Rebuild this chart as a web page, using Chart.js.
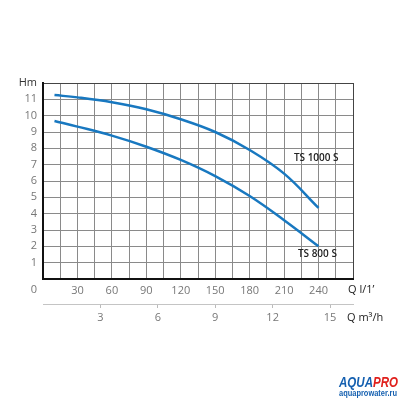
<!DOCTYPE html>
<html>
<head>
<meta charset="utf-8">
<script src="https://cdn.jsdelivr.net/npm/chart.js@4.4.1/dist/chart.umd.min.js"></script>
<style>
html,body{margin:0;padding:0;background:#fff;}
#wrap{width:400px;height:400px;position:relative;}
</style>
</head>
<body>
<div id="wrap"><canvas id="c" width="400" height="400"></canvas></div>
<script>
// Flow in l/min
const flowLpm = [10, 30, 60, 90, 120, 150, 180, 210, 240];
// Head in m
const ts1000 = [11.26, 11.12, 10.82, 10.39, 9.78, 9.0, 7.9, 6.45, 4.35];
const ts800  = [9.67, 9.33, 8.78, 8.1, 7.29, 6.3, 5.08, 3.6, 2.0];
const seriesNames = ['TS 1000 S', 'TS 800 S'];
const yTicks = [1,2,3,4,5,6,7,8,9,10,11];
const xTickLabels = [30,60,90,120,150,180,210,240];
const m3hTicks = [3,6,9,12,15];

const blue = '#1878c0';
const font = {family: "'Open Sans', sans-serif", size: 11};

function fitText(ctx, txt, x, y, width) {
  const w = ctx.measureText(txt).width;
  ctx.save();
  ctx.translate(x, y);
  ctx.scale(width / w, 1);
  ctx.fillText(txt, 0, 0);
  ctx.restore();
}

const extras = {
  id: 'extras',
  afterDraw(chart) {
    const ctx = chart.ctx;
    const xs = chart.scales.x, ys = chart.scales.y, x2 = chart.scales.x2;
    ctx.save();
    ctx.font = "11px 'Open Sans', sans-serif";
    ctx.fillStyle = '#777';
    ctx.textAlign = 'right';
    ctx.textBaseline = 'middle';
    ctx.fillText('0', xs.left - 6, ys.bottom + 11);
    ctx.fillStyle = '#222';
    ctx.textAlign = 'left';
    ctx.fillText("Q l/1\u2019", xs.right - 5, ys.bottom + 11);
    ctx.fillText("Q m\u00b3/h", x2.right - 6, x2.top + 14);
    ctx.font = "600 10px 'Open Sans', sans-serif";
    ctx.fillStyle = '#222';
    ctx.textAlign = 'center';
    ctx.fillText(seriesNames[0], xs.getPixelForValue(238), ys.getPixelForValue(7.4));
    ctx.fillText(seriesNames[1], xs.getPixelForValue(239), ys.getPixelForValue(1.53));
    // logo
    ctx.textAlign = 'left';
    ctx.textBaseline = 'alphabetic';
    ctx.font = "italic bold 15px 'Liberation Sans', sans-serif";
    const wA = ctx.measureText('AQUA').width, wP = ctx.measureText('PRO').width;
    const k = 59 / (wA + wP);
    ctx.save();
    ctx.translate(339, 387);
    ctx.scale(k, 1);
    ctx.fillStyle = '#1560b0';
    ctx.fillText('AQUA', 0, 0);
    ctx.fillStyle = '#e0201c';
    ctx.fillText('PRO', wA, 0);
    ctx.restore();
    ctx.font = "bold 9px 'Liberation Sans', sans-serif";
    ctx.fillStyle = '#1560b0';
    fitText(ctx, 'aquaprowater.ru', 339, 396, 58);
    ctx.restore();
  }
};

new Chart(document.getElementById('c'), {
  type: 'line',
  data: {
    datasets: [
      {label: seriesNames[0], data: flowLpm.map((q,i)=>({x:q, y:ts1000[i]})), borderColor: blue, borderWidth: 2.5, pointRadius: 0, tension: 0.4, fill: false},
      {label: seriesNames[1], data: flowLpm.map((q,i)=>({x:q, y:ts800[i]})), borderColor: blue, borderWidth: 2.5, pointRadius: 0, tension: 0.4, fill: false}
    ]
  },
  options: {
    responsive: false,
    animation: false,
    devicePixelRatio: 1,
    layout: {padding: {top: 83, left: 0, right: 47, bottom: 66}},
    plugins: {legend: {display: false}, tooltip: {enabled: false}},
    scales: {
      x: {
        type: 'linear', position: 'bottom', min: 0, max: 270,
        afterBuildTicks: s => { s.ticks = []; for (let v = 0; v <= 270; v += 15) s.ticks.push({value: v}); },
        afterFit: s => { s.height = 25; },
        ticks: {
          autoSkip: false, maxRotation: 0, padding: 5, font: font, color: '#777',
          callback: v => xTickLabels.includes(v) ? String(v) : ''
        },
        grid: {color: ctx => ctx.tick && ctx.tick.value === 270 ? '#444' : '#8a8a8a', lineWidth: 1, drawTicks: false},
        border: {display: true, color: '#111', width: 2}
      },
      x2: {
        type: 'linear', position: 'bottom', min: 0, max: 16.2,
        afterBuildTicks: s => { s.ticks = m3hTicks.map(v => ({value: v})); },
        afterFit: s => { s.height = 30; },
        ticks: {autoSkip: false, maxRotation: 0, padding: 3, font: font, color: '#777'},
        grid: {drawOnChartArea: false, drawTicks: true, tickLength: 4, color: '#bbb'},
        border: {display: true, color: '#c4c4c4', width: 1}
      },
      y: {
        type: 'linear', min: 0, max: 12,
        afterBuildTicks: s => { s.ticks = []; for (let v = 0; v <= 12; v++) s.ticks.push({value: v}); },
        afterFit: s => { s.width = 43; },
        ticks: {
          autoSkip: false, padding: 6, font: font,
          color: ctx => ctx.tick.value === 12 ? '#333' : '#777',
          callback: v => v === 12 ? 'Hm' : (yTicks.includes(v) ? String(v) : '')
        },
        grid: {color: ctx => ctx.tick && ctx.tick.value === 12 ? '#444' : '#8a8a8a', lineWidth: 1, drawTicks: false},
        border: {display: true, color: '#111', width: 2}
      }
    }
  },
  plugins: [extras]
});
</script>
</body>
</html>
